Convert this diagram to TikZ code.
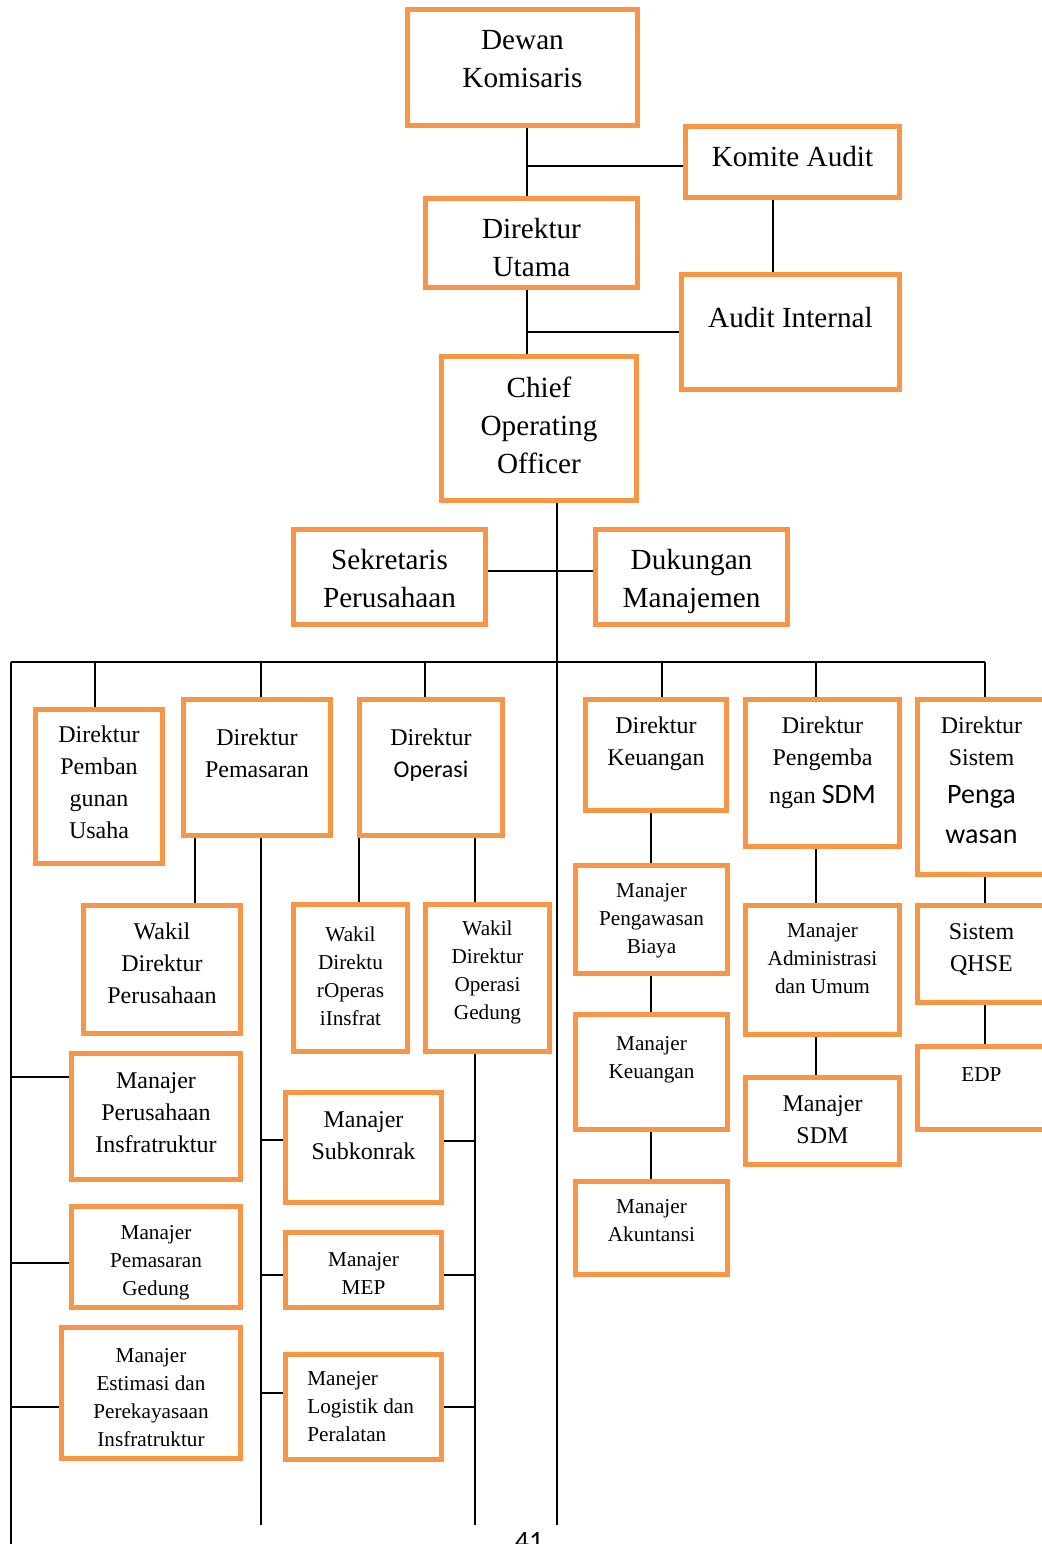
\documentclass[tikz,border=0pt]{standalone}
\usepackage{fontspec}
\setmainfont{Liberation Serif}
\newfontfamily\cali{Carlito}
\usetikzlibrary{positioning,fit}
\definecolor{orgline}{RGB}{247,150,70}
\tikzset{
  obox/.style ={draw=orgline, line width=2.5pt, rectangle, inner sep=-1.25pt},
  conn/.style ={draw, line width=1pt},
  tA/.style   ={align=center, inner sep=0pt, anchor=base, font=\fontsize{14.6}{19}\selectfont},
  tB/.style   ={align=center, inner sep=0pt, anchor=base, font=\fontsize{12}{16}\selectfont},
  tC/.style   ={align=center, inner sep=0pt, anchor=base, font=\fontsize{10.6}{14}\selectfont},
}
\newcommand{\calibig}{\cali\fontsize{14}{20}\selectfont}

\begin{document}
\begin{tikzpicture}[x=0.5pt, y=-0.5pt]
  \useasboundingbox (0,0) rectangle (1041,1544);

  % top of the chart
  \node[obox, fit={(405,7) (640,128)}]   (dk)  {};
  \node[obox, fit={(683,124) (902,200)}] (ka)  {};
  \node[obox, fit={(423,196) (640,290)}] (du)  {};
  \node[obox, fit={(679,272) (902,392)}] (ai)  {};
  \node[obox, fit={(439,354) (639,503)}] (coo) {};
  \node[obox, fit={(291,527) (488,627)}] (sp)  {};
  \node[obox, fit={(593,527) (790,627)}] (dm)  {};

  % texts sit on the baseline of their last line
  \node[tA] (dk-t)  at (dk.north |- 0,87)   {Dewan\\Komisaris};
  \node[tA] (ka-t)  at (ka.north |- 0,166)  {Komite Audit};
  \node[tA] (du-t)  at (du.north |- 0,276)  {Direktur\\Utama};
  \node[tA] (ai-t)  at (ai.north |- 0,327)  {Audit Internal};
  \node[tA] (coo-t) at (coo.north |- 0,473) {Chief\\Operating\\Officer};
  \node[tA] (sp-t)  at (sp.north |- 0,607)  {Sekretaris\\Perusahaan};
  \node[tA] (dm-t)  at (dm.north |- 0,607)  {Dukungan\\Manajemen};

  % direktur row
  \node[obox, fit={(33,707) (165,866)}]   (dpu)  {};
  \node[obox, fit={(181,697) (333,838)}]  (dpm)  {};
  \node[obox, fit={(357,697) (505,838)}]  (dop)  {};
  \node[obox, fit={(583,697) (729,813)}]  (dku)  {};
  \node[obox, fit={(743,697) (902,849)}]  (dsdm) {};
  \node[obox, fit={(915,697) (1048,877)}] (dsp)  {};

  \node[tB] (dpu-t)  at (dpu.north |- 0,838)  {Direktur\\Pemban\\gunan\\Usaha};
  \node[tB] (dpm-t)  at (dpm.north |- 0,777)  {Direktur\\Pemasaran};
  \node[tB] (dop-t)  at (dop.north |- 0,777)  {Direktur\\{\cali Operasi}};
  \node[tB] (dku-t)  at (dku.north |- 0,765)  {Direktur\\Keuangan};
  \node[tB] (dsdm-t) at (dsdm.north |- 0,803) {Direktur\\Pengemba\\[3pt]ngan {\calibig SDM}};
  \node[tB] (dsp-t)  at (dsp.north |- 0,843)  {Direktur\\Sistem\\[3pt]{\calibig Penga}\\[4pt]{\calibig wasan}};

  % wakil, manajer
  \node[obox, fit={(81,903) (243,1036)}]    (wdp)  {};
  \node[obox, fit={(291,902) (410,1054)}]   (wdi)  {};
  \node[obox, fit={(423,902) (552,1054)}]   (wdg)  {};
  \node[obox, fit={(573,863) (730,976)}]    (mpb)  {};
  \node[obox, fit={(743,903) (902,1037)}]   (mad)  {};
  \node[obox, fit={(915,903) (1048,1005)}]  (qhse) {};
  \node[obox, fit={(573,1012) (730,1132)}]  (mku)  {};
  \node[obox, fit={(743,1075) (902,1167)}]  (msdm) {};
  \node[obox, fit={(915,1044) (1048,1132)}] (edp)  {};
  \node[obox, fit={(573,1179) (730,1277)}]  (mak)  {};
  \node[obox, fit={(69,1051) (243,1182)}]   (mpi)  {};
  \node[obox, fit={(283,1090) (444,1205)}]  (msk)  {};
  \node[obox, fit={(69,1204) (243,1310)}]   (mpg)  {};
  \node[obox, fit={(283,1230) (444,1310)}]  (mmep) {};
  \node[obox, fit={(59,1325) (243,1461)}]   (mei)  {};
  \node[obox, fit={(283,1352) (444,1462)}]  (mlp)  {};

  \node[tB] (wdp-t)  at (wdp.north |- 0,1003)  {Wakil\\Direktur\\Perusahaan};
  \node[tC] (wdi-t)  at (wdi.north |- 0,1025)  {Wakil\\Direktu\\rOperas\\iInsfrat};
  \node[tC] (wdg-t)  at (wdg.north |- 0,1019)  {Wakil\\Direktur\\Operasi\\Gedung};
  \node[tC] (mpb-t)  at (mpb.north |- 0,953)   {Manajer\\Pengawasan\\Biaya};
  \node[tC] (mad-t)  at (mad.north |- 0,993)   {Manajer\\Administrasi\\dan Umum};
  \node[tB] (qhse-t) at (qhse.north |- 0,971)  {Sistem\\QHSE};
  \node[tC] (mku-t)  at (mku.north |- 0,1078)  {Manajer\\Keuangan};
  \node[tB] (msdm-t) at (msdm.north |- 0,1143) {Manajer\\SDM};
  \node[tC] (edp-t)  at (edp.north |- 0,1081)  {EDP};
  \node[tC] (mak-t)  at (mak.north |- 0,1241)  {Manajer\\Akuntansi};
  \node[tB] (mpi-t)  at (mpi.north |- 0,1152)  {Manajer\\Perusahaan\\Insfratruktur};
  \node[tB] (msk-t)  at (msk.north |- 0,1159)  {Manajer\\Subkonrak};
  \node[tC] (mpg-t)  at (mpg.north |- 0,1295)  {Manajer\\Pemasaran\\Gedung};
  \node[tC] (mmep-t) at (mmep.north |- 0,1294) {Manajer\\MEP};
  \node[tC] (mei-t)  at (mei.north |- 0,1446)  {Manajer\\Estimasi dan\\Perekayasaan\\Insfratruktur};
  \node[tC, align=left, anchor=base west] (mlp-t) at (307,1441) {Manejer\\Logistik dan\\Peralatan};

  \node[font=\cali\fontsize{14}{16}\selectfont, anchor=base, inner sep=0pt] (pg) at (529,1550) {41};

  % connectors
  \coordinate (t1) at (527,166);
  \coordinate (t2) at (527,332);
  \coordinate (k1) at (773,236);
  \coordinate (t3) at (557,571);
  \coordinate (bl) at (11,662);
  \coordinate (br) at (985,662);
  \coordinate (sC) at (557,1525);
  \coordinate (sL) at (11,1544);
  \coordinate (sP) at (261,1525);
  \coordinate (sO) at (475,1525);

  \draw[conn] (dk.south -| t1) -- (du.north -| t1);
  \draw[conn] (t1) -- (ka.west |- t1);
  \draw[conn] (ka.south -| k1) -- (ai.north -| k1);
  \draw[conn] (du.south -| t2) -- (coo.north -| t2);
  \draw[conn] (t2) -- (ai.west |- t2);
  \draw[conn] (coo.south -| t3) -- (sC);
  \draw[conn] (sp.east |- t3) -- (dm.west |- t3);
  \draw[conn] (bl) -- (br);
  \draw[conn] (bl) -- (sL);
  \foreach \n/\x in {dpu/95, dpm/261, dop/425, dku/662, dsdm/816, dsp/985}
    \draw[conn] (bl -| \x,0) -- (\n.north -| \x,0);

  \draw[conn] (dpm.south -| 195,0) -- (wdp.north -| 195,0);
  \draw[conn] (dpm.south -| sP) -- (sP);
  \draw[conn] (dop.south -| 359,0) -- (wdi.north -| 359,0);
  \draw[conn] (dop.south -| sO) -- (wdg.north -| sO);
  \draw[conn] (wdg.south -| sO) -- (sO);
  \draw[conn] (dku.south -| 651,0) -- (mpb.north -| 651,0);
  \draw[conn] (mpb.south -| 651,0) -- (mku.north -| 651,0);
  \draw[conn] (mku.south -| 651,0) -- (mak.north -| 651,0);
  \draw[conn] (dsdm.south -| 816,0) -- (mad.north -| 816,0);
  \draw[conn] (mad.south -| 816,0) -- (msdm.north -| 816,0);
  \draw[conn] (dsp.south -| 985,0) -- (qhse.north -| 985,0);
  \draw[conn] (qhse.south -| 985,0) -- (edp.north -| 985,0);

  \foreach \n/\y in {mpi/1077, mpg/1263, mei/1407}
    \draw[conn] (sL |- 0,\y) -- (\n.west |- 0,\y);
  \foreach \n/\y in {msk/1140, mmep/1275, mlp/1393}
    \draw[conn] (sP |- 0,\y) -- (\n.west |- 0,\y);
  \foreach \n/\y in {msk/1141, mmep/1275, mlp/1407}
    \draw[conn] (sO |- 0,\y) -- (\n.east |- 0,\y);
\end{tikzpicture}
\end{document}
